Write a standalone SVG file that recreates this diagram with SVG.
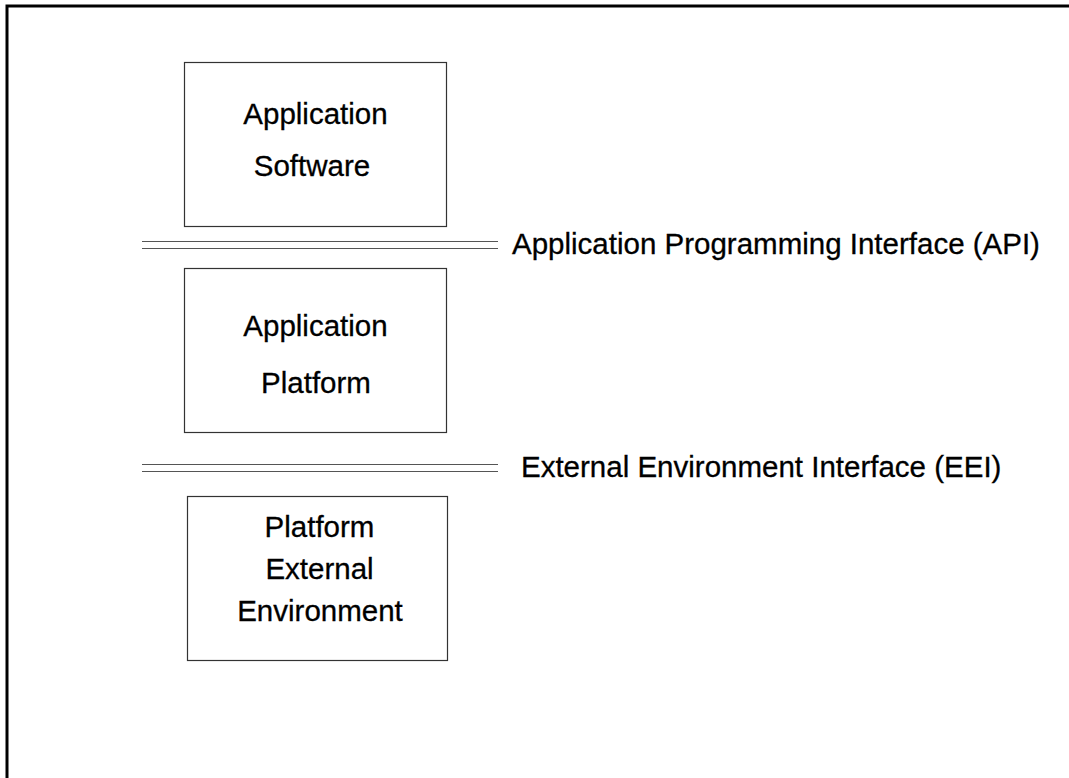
<svg xmlns="http://www.w3.org/2000/svg" width="1069" height="778" viewBox="0 0 1069 778">
<style>
.frame{fill:none;stroke:#000;stroke-width:3}
.box{fill:#fff;stroke:#333;stroke-width:1.2}
.rule{stroke:#555;stroke-width:1.2;fill:none}
text{font-family:"Liberation Sans",Arial,sans-serif;font-size:29.5px;fill:#000;stroke:#000;stroke-width:0.3}
.c{text-anchor:middle}
</style>
<rect width="1069" height="778" fill="#fff"/>
<rect class="frame" x="7" y="6" width="1100" height="800"/>
<g id="app-software">
<rect class="box" x="184.5" y="62.5" width="262" height="164"/>
<text class="c" x="315.5" y="124">Application</text>
<text class="c" x="312" y="176">Software</text>
</g>
<g id="app-platform">
<rect class="box" x="184.5" y="268.5" width="262" height="164"/>
<text class="c" x="315.5" y="336">Application</text>
<text class="c" x="316" y="393">Platform</text>
</g>
<g id="platform-ext-env">
<rect class="box" x="187.5" y="496.5" width="260" height="164"/>
<text class="c" x="319.5" y="537">Platform</text>
<text class="c" x="319.5" y="579">External</text>
<text class="c" x="320" y="621">Environment</text>
</g>
<g id="connectors">
<g id="api">
<line class="rule" x1="142" y1="241.5" x2="498" y2="241.5"/>
<line class="rule" x1="142" y1="248.5" x2="498" y2="248.5"/>
<text x="512" y="254">Application Programming Interface (API)</text>
</g>
<g id="eei">
<line class="rule" x1="142" y1="464.5" x2="498" y2="464.5"/>
<line class="rule" x1="142" y1="471.5" x2="498" y2="471.5"/>
<text x="521" y="477">External Environment Interface (EEI)</text>
</g>
</g>
</svg>
